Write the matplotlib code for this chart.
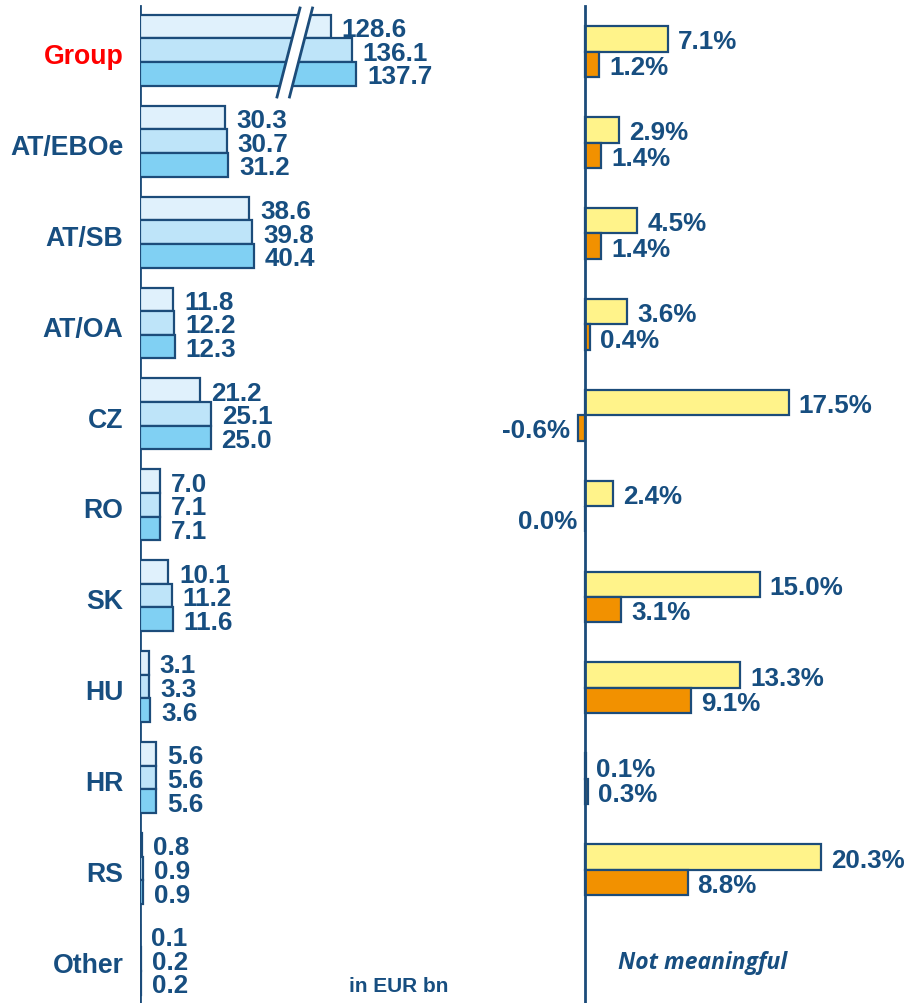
import matplotlib.pyplot as plt
from matplotlib.patches import Polygon

plt.rcParams['font.family'] = ['Liberation Sans', 'DejaVu Sans']
plt.rcParams['font.weight'] = 'bold'

# Datos
categorias = ['Group', 'AT/EBOe', 'AT/SB', 'AT/OA', 'CZ', 'RO', 'SK', 'HU', 'HR', 'RS', 'Other']
vol_1 = [128.6, 30.3, 38.6, 11.8, 21.2, 7.0, 10.1, 3.1, 5.6, 0.8, 0.1]
vol_2 = [136.1, 30.7, 39.8, 12.2, 25.1, 7.1, 11.2, 3.3, 5.6, 0.9, 0.2]
vol_3 = [137.7, 31.2, 40.4, 12.3, 25.0, 7.1, 11.6, 3.6, 5.6, 0.9, 0.2]
crec_a = [7.1, 2.9, 4.5, 3.6, 17.5, 2.4, 15.0, 13.3, 0.1, 20.3, None]
crec_b = [1.2, 1.4, 1.4, 0.4, -0.6, 0.0, 3.1, 9.1, 0.3, 8.8, None]
corte_group = 61  # barra Group cortada

W, H = 908, 1004
PX_L = 2.82   # px por unidad, izquierda
PX_R = 11.65  # px por unidad, derecha
AZUL = '#174E80'
BORDE = '#1C4C7A'
n = len(categorias)
y = list(range(n))
y_top = -54 / 90.9
y_bot = (H - 54) / 90.9

fig = plt.figure(figsize=(W / 100, H / 100), dpi=100)

# panel izquierdo
ax1 = fig.add_axes([140 / W, 0, 420 / W, 1])
ax1.set_xlim(0, 420 / PX_L)
ax1.set_ylim(y_bot, y_top)
for s in ax1.spines.values():
    s.set_visible(False)
ax1.axvline(0, ymin=0, ymax=1 - 7 / H, color=BORDE, lw=2)
ax1.set_xticks([])
ax1.set_yticks(y)
ax1.set_yticklabels(categorias, fontsize=19.2, color=AZUL)
ax1.tick_params(axis='y', length=0, pad=12)
ax1.get_yticklabels()[0].set_color('#FF0000')

h = 0.26
colores = ['#E0F1FC', '#BEE4F9', '#80D0F3']
for k, (vals, c) in enumerate(zip([vol_1, vol_2, vol_3], colores)):
    yy = [v - 0.03 + (k - 1) * h for v in y]
    largo = [v - corte_group if i == 0 else v for i, v in enumerate(vals)]
    ax1.barh(yy, largo, height=h, color=c, edgecolor=BORDE, lw=1.6, zorder=2)
    for yi, l, v in zip(yy, largo, vals):
        ax1.text(l + 11 / PX_L, yi, f'{v:.1f}', fontsize=18.7, color=AZUL,
                 va='center_baseline', ha='left', clip_on=False)

# marca de corte
x0 = (300 - 140) / PX_L
dx = 12.5 / PX_L
sl = 23 / PX_L
ya, yb = 9 / 90.9 + y_top, 98 / 90.9 + y_top
ax1.add_patch(Polygon([(x0, ya), (x0 + dx, ya), (x0 + dx - sl, yb), (x0 - sl, yb)],
                      closed=True, facecolor='white', edgecolor='none', zorder=3))
ax1.plot([x0, x0 - sl], [ya, yb], color=BORDE, lw=2, zorder=4)
ax1.plot([x0 + dx, x0 + dx - sl], [ya, yb], color=BORDE, lw=2, zorder=4)

ax1.text((399 - 140) / PX_L, (987 - 54) / 90.9, 'in EUR bn', fontsize=15, color=AZUL,
         ha='center', va='center')

# panel derecho
ax2 = fig.add_axes([500 / W, 0, 408 / W, 1])
ax2.set_xlim(-85 / PX_R, 323 / PX_R)
ax2.set_ylim(y_bot, y_top)
ax2.axis('off')
ax2.axvline(0, ymin=0, ymax=1 - 7 / H, color=BORDE, lw=2, zorder=5)

hr = 0.28
for vals, off, c in [(crec_a, -0.155, '#FFF38A'), (crec_b, 0.125, '#F29100')]:
    for i, v in enumerate(vals):
        if v is None:
            continue
        yi = i + off
        ax2.barh(yi, v, height=hr, color=c, edgecolor=BORDE, lw=1.6, zorder=2)
        if v > 0:
            ax2.text(v + 10 / PX_R, yi, f'{v:.1f}%', fontsize=18.7, color=AZUL,
                     va='center_baseline', ha='left')
        else:
            ax2.text(v - 8 / PX_R, yi, f'{v:.1f}%', fontsize=18.7, color=AZUL,
                     va='center_baseline', ha='right')

ax2.text((703 - 585) / PX_R, n - 1, 'Not meaningful', fontsize=16.5, color=AZUL,
         ha='center', va='center', style='italic', family=['Open Sans', 'DejaVu Sans'],
         fontweight='bold')

fig.savefig('out.png', dpi=100)
